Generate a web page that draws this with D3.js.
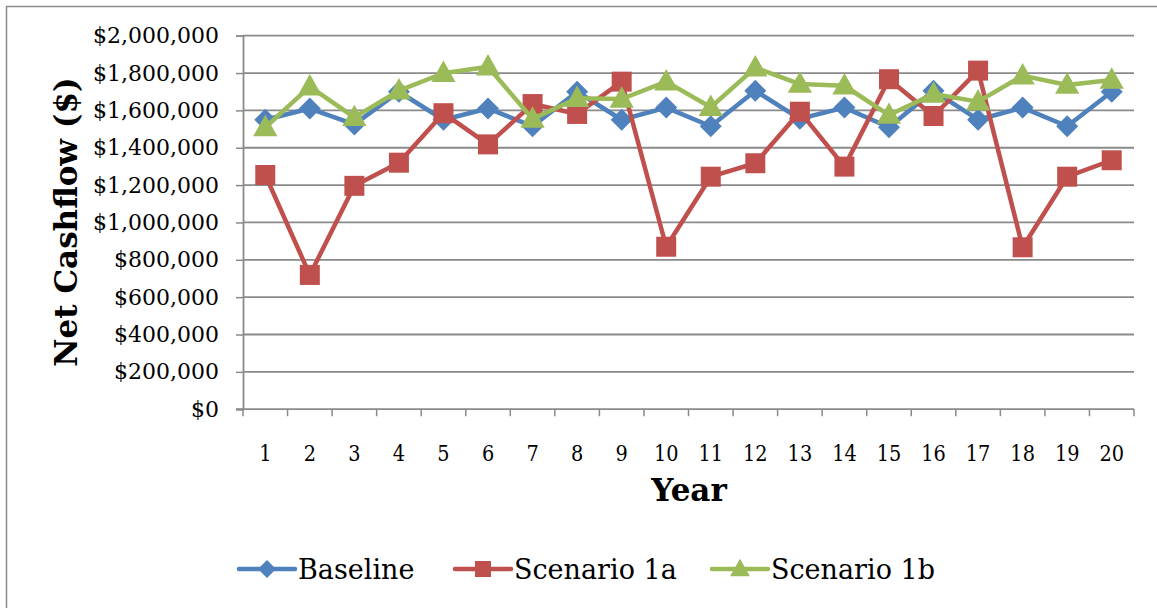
<!DOCTYPE html>
<html>
<head>
<meta charset="utf-8">
<script src="https://cdn.jsdelivr.net/npm/d3@7"></script>
<style>
  html, body { margin: 0; padding: 0; background: #fff; }
  svg { display: block; }
  text { font-family: "DejaVu Serif", "Liberation Serif", serif; fill: #000; }
</style>
</head>
<body>
<svg id="chart" width="1157" height="608"></svg>
<script>
// Net cashflow per year for each scenario ($)
const years = d3.range(1, 21).map(String);
const baseline = [1550000, 1610000, 1525000, 1700000, 1550000, 1610000, 1515000, 1700000, 1550000, 1615000,
                  1515000, 1705000, 1555000, 1615000, 1510000, 1705000, 1550000, 1615000, 1515000, 1700000];
const scenario1a = [1254000, 719000, 1196000, 1320000, 1585000, 1418000, 1634000, 1581000, 1754000, 870000,
                    1245000, 1317000, 1593000, 1299000, 1767000, 1570000, 1813000, 867000, 1245000, 1333000];
const scenario1b = [1509000, 1727000, 1563000, 1706000, 1799000, 1834000, 1554000, 1665000, 1661000, 1754000,
                    1617000, 1829000, 1741000, 1732000, 1575000, 1688000, 1647000, 1786000, 1736000, 1763000];
const yTicks = [0, 200000, 400000, 600000, 800000, 1000000, 1200000, 1400000, 1600000, 1800000, 2000000];

const seriesNames = ["Baseline", "Scenario 1a", "Scenario 1b"];
const seriesColors = ["#4F81BD", "#C0504D", "#9BBB59"];
const seriesShapes = ["diamond", "square", "triangle"];
const seriesValues = [baseline, scenario1a, scenario1b];

const svg = d3.select("#chart");
const plot = { left: 243, right: 1134, top: 35.7, bottom: 409.2 };

// outer chart frame
svg.append("rect")
  .attr("x", 6.5).attr("y", 6.5).attr("width", 1200).attr("height", 700)
  .attr("fill", "none").attr("stroke", "#8c8c8c").attr("stroke-width", 1.5);

const x = d3.scaleBand().domain(years).range([plot.left, plot.right]).padding(0);
const y = d3.scaleLinear().domain([0, 2000000]).range([plot.bottom, plot.top]);
const cx = d => x(d) + x.bandwidth() / 2;

// horizontal gridlines
svg.append("g").selectAll("line")
  .data(yTicks.filter(v => v > 0))
  .join("line")
  .attr("x1", plot.left).attr("x2", plot.right)
  .attr("y1", d => y(d)).attr("y2", d => y(d))
  .attr("stroke", "#8a8a8a").attr("stroke-width", 1.8);

// y axis
const fmt = v => "$" + d3.format(",")(v);
const yAxis = svg.append("g")
  .attr("transform", `translate(${plot.left},0)`)
  .call(d3.axisLeft(y).tickValues(yTicks).tickFormat(fmt).tickSize(7).tickPadding(17));
yAxis.select(".domain").attr("stroke", "#8a8a8a").attr("stroke-width", 1.8);
yAxis.selectAll(".tick line").attr("stroke", "#8a8a8a").attr("stroke-width", 1.5);
yAxis.selectAll(".tick text")
  .style("font-family", '"DejaVu Serif", serif').style("font-size", "22px").attr("fill", "#000");

// x axis: category labels with tick marks on category boundaries
const xAxis = svg.append("g")
  .attr("transform", `translate(0,${plot.bottom})`)
  .call(d3.axisBottom(x).tickSize(0).tickPadding(35));
xAxis.select(".domain").remove();
xAxis.selectAll(".tick text")
  .style("font-family", '"DejaVu Serif", serif').style("font-size", "23px").attr("fill", "#000")
  .attr("transform", "scale(0.84,1)");
svg.append("line")
  .attr("x1", plot.left - 7).attr("x2", plot.right)
  .attr("y1", plot.bottom).attr("y2", plot.bottom)
  .attr("stroke", "#8a8a8a").attr("stroke-width", 1.8);
svg.append("g").selectAll("line")
  .data(d3.range(years.length + 1))
  .join("line")
  .attr("x1", i => plot.left + i * x.step()).attr("x2", i => plot.left + i * x.step())
  .attr("y1", plot.bottom).attr("y2", plot.bottom + 7)
  .attr("stroke", "#8a8a8a").attr("stroke-width", 1.5);

// axis titles
svg.append("text")
  .attr("x", 689).attr("y", 501)
  .attr("text-anchor", "middle")
  .style("font-size", "31px").style("font-weight", "bold")
  .text("Year");
svg.append("text")
  .attr("transform", "translate(77,222) rotate(-90)")
  .attr("text-anchor", "middle")
  .style("font-size", "31px").style("font-weight", "bold")
  .text("Net Cashflow ($)");

// marker shapes
function markerPath(shape, s) {
  if (shape === "diamond") return `M0,${-s}L${s},0L0,${s}L${-s},0Z`;
  if (shape === "square") return `M${-s},${-s}H${s}V${s}H${-s}Z`;
  return `M0,${-s * 1.15}L${s * 1.1},${s * 0.8}L${-s * 1.1},${s * 0.8}Z`;
}

const line = d3.line().x((d, i) => cx(years[i])).y(d => y(d));

seriesValues.forEach((vals, k) => {
  const g = svg.append("g");
  g.append("path")
    .attr("d", line(vals))
    .attr("fill", "none")
    .attr("stroke", seriesColors[k])
    .attr("stroke-width", 4.5)
    .attr("stroke-linejoin", "round");
  const size = seriesShapes[k] === "diamond" ? 11 : seriesShapes[k] === "square" ? 10 : 11;
  g.selectAll("path.m")
    .data(vals)
    .join("path")
    .attr("class", "m")
    .attr("transform", (d, i) => `translate(${cx(years[i])},${y(d)})`)
    .attr("d", markerPath(seriesShapes[k], size))
    .attr("fill", seriesColors[k]);
});

// legend
const legendX = [239, 455, 712];
const legendY = 569;
seriesNames.forEach((name, k) => {
  const g = svg.append("g").attr("transform", `translate(${legendX[k]},${legendY})`);
  g.append("line")
    .attr("x1", 0).attr("x2", 56)
    .attr("stroke", seriesColors[k]).attr("stroke-width", 4.5).attr("stroke-linecap", "round");
  const s = seriesShapes[k] === "diamond" ? 9 : seriesShapes[k] === "square" ? 8 : 9;
  g.append("path")
    .attr("transform", "translate(28,0)")
    .attr("d", markerPath(seriesShapes[k], s))
    .attr("fill", seriesColors[k]);
  g.append("text")
    .attr("x", 59).attr("y", 10)
    .style("font-size", "27px")
    .text(name);
});
</script>
</body>
</html>
